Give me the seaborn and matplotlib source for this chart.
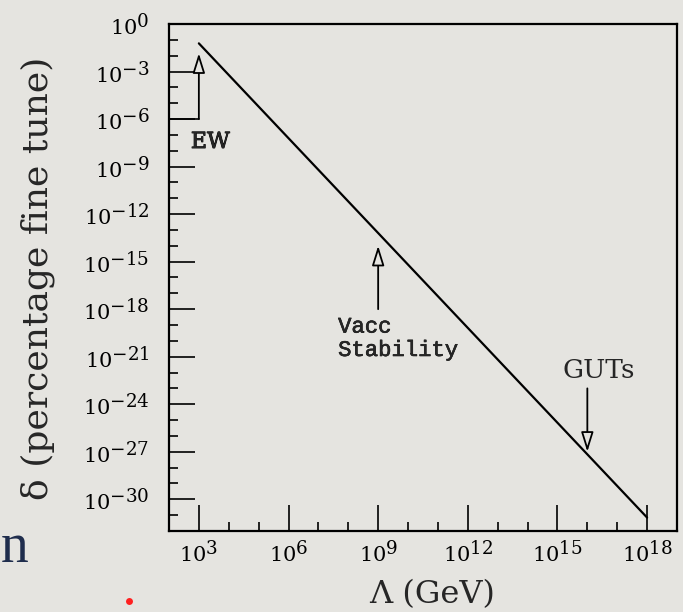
import numpy as np
import pandas as pd
import matplotlib
matplotlib.use("Agg")
import matplotlib.pyplot as plt
import matplotlib._mathtext as mathtext_core
import matplotlib.patheffects as pe
import seaborn as sns
from matplotlib.ticker import FixedLocator, LogFormatterMathtext, NullFormatter
from matplotlib.lines import Line2D

# Fine-tuning of the Higgs mass versus the cutoff scale
cutoff_gev = [1e3, 1e18]
fine_tune = [6e-2, 7e-32]

x_major_ticks = [1e3, 1e6, 1e9, 1e12, 1e15, 1e18]
y_major_ticks = [1e0, 1e-3, 1e-6, 1e-9, 1e-12, 1e-15, 1e-18,
                 1e-21, 1e-24, 1e-27, 1e-30]
x_minor_ticks = [10.0 ** k for k in range(2, 20)]
y_minor_ticks = [10.0 ** k for k in range(-32, 1)]
x_limits = (1e2, 1e19)
y_limits = (1e-32, 1e0)

# Marked scales: position on the x axis, arrow tail and arrow tip
ew_scale, ew_tail, ew_tip = 1e3, 1e-6, 10 ** -1.85
vacc_scale, vacc_tail, vacc_tip = 1e9, 1e-18, 1e-14
gut_scale, gut_tail, gut_tip = 1e16, 1e-23, 1e-27

bg = "#e5e4e0"

sns.set_theme(style="ticks")
plt.rcParams["font.family"] = ["DejaVu Serif"]
plt.rcParams["mathtext.fontset"] = "dejavuserif"
plt.rcParams["axes.edgecolor"] = "black"
plt.rcParams["xtick.color"] = "black"
plt.rcParams["ytick.color"] = "black"
# larger exponents in the power-of-ten tick labels
mathtext_core.SHRINK_FACTOR = 0.88

fig = plt.figure(figsize=(6.83, 6.12), dpi=100, facecolor=bg)
ax = fig.add_axes([0.2474, 0.1324, 0.7438, 0.8284])
ax.set_facecolor(bg)
ax.set_xscale("log")
ax.set_yscale("log")

df = pd.DataFrame({"cutoff": cutoff_gev, "delta": fine_tune})
sns.lineplot(data=df, x="cutoff", y="delta", ax=ax, color="black",
             linewidth=1.6)

ax.set_xlim(*x_limits)
ax.set_ylim(*y_limits)
ax.xaxis.set_major_locator(FixedLocator(x_major_ticks))
ax.yaxis.set_major_locator(FixedLocator(y_major_ticks))
ax.xaxis.set_minor_locator(FixedLocator(x_minor_ticks))
ax.yaxis.set_minor_locator(FixedLocator(y_minor_ticks))
ax.xaxis.set_major_formatter(LogFormatterMathtext())
ax.yaxis.set_major_formatter(LogFormatterMathtext())
ax.xaxis.set_minor_formatter(NullFormatter())
ax.yaxis.set_minor_formatter(NullFormatter())

ax.tick_params(which="both", direction="in", top=False, right=False,
               width=1.2, labelsize=15, colors="black")
ax.tick_params(which="major", length=18.7)
ax.tick_params(which="minor", length=6.5)
ax.tick_params(axis="x", which="major", pad=6)
ax.tick_params(axis="y", which="major", pad=14)
for s in ax.spines.values():
    s.set_linewidth(1.6)
    s.set_color("black")
ax.set_xlabel("")
ax.set_ylabel("")

arrow_style = dict(arrowstyle="-|>,head_length=0.8,head_width=0.25",
                   mutation_scale=15, fc=bg, ec="black", lw=1.3,
                   shrinkA=0, shrinkB=0)

# EW arrow, joined to the axis by a short base line
ax.plot([x_limits[0], ew_scale], [ew_tail, ew_tail], color="black", lw=1.2)
ax.annotate("", xy=(ew_scale, ew_tip), xytext=(ew_scale, ew_tail),
            arrowprops=arrow_style)
ax.text(10 ** 2.73, 10 ** -7.45, "EW", ha="left", va="center", fontsize=16,
        path_effects=[pe.withStroke(linewidth=0.6, foreground="black")])

ax.annotate("", xy=(vacc_scale, vacc_tip), xytext=(vacc_scale, vacc_tail),
            arrowprops=arrow_style)
ax.text(10 ** 7.66, 10 ** -19.87, "Vacc\nStability", ha="left", va="center",
        fontsize=16, family="Liberation Mono", linespacing=1.15,
        path_effects=[pe.withStroke(linewidth=0.4, foreground="black")])

ax.annotate("", xy=(gut_scale, gut_tip), xytext=(gut_scale, gut_tail),
            arrowprops=arrow_style)
ax.text(10 ** 16.37, 10 ** -21.86, "GUTs", ha="center", va="center",
        fontsize=19)

fig.text(0.6325, 0.0278, "Λ (GeV)", ha="center", va="center", fontsize=23)
fig.text(0.0549, 0.545, "δ (percentage fine tune)", ha="center",
         va="center", rotation=90, fontsize=26)

# slide remnants around the figure
fig.text(1 / 683, 1 - 562 / 612, "n", ha="left", va="baseline",
         fontsize=40, family="Liberation Serif", color="#1f2d4d")
fig.add_artist(Line2D([129 / 683], [1 - 601 / 612], marker="o",
                      markersize=5, color="#ff2020", markeredgewidth=0,
                      transform=fig.transFigure))

fig.savefig("out.png", dpi=100, facecolor=bg)
